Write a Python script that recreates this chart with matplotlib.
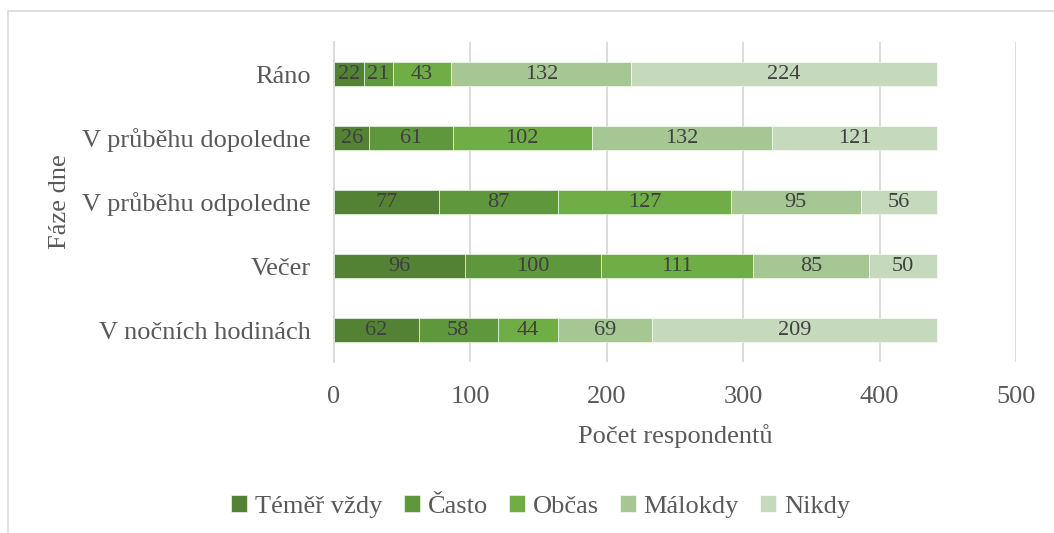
import matplotlib.pyplot as plt
from matplotlib.patches import Rectangle

plt.rcParams['font.family'] = ['Liberation Serif', 'DejaVu Serif']

phases = ["Ráno", "V průběhu dopoledne", "V průběhu odpoledne", "Večer", "V nočních hodinách"]
series = ["Téměř vždy", "Často", "Občas", "Málokdy", "Nikdy"]
temer_vzdy = [22, 26, 77, 96, 62]
casto = [21, 61, 87, 100, 58]
obcas = [43, 102, 127, 111, 44]
malokdy = [132, 132, 95, 85, 69]
nikdy = [224, 121, 56, 50, 209]
values = [temer_vzdy, casto, obcas, malokdy, nikdy]
colors = ["#548235", "#5f973c", "#70ad47", "#a6c693", "#c5d9bd"]

fig = plt.figure(figsize=(10.54, 5.33), dpi=100)
ax = fig.add_axes([0.3169, 0.3208, 0.6471, 0.6004])

ypos = list(range(len(phases)))
left = [0] * len(phases)
for name, vals, col in zip(series, values, colors):
    bars = ax.barh(ypos, vals, left=left, height=0.39, color=col, label=name,
                   edgecolor="white", linewidth=0.4)
    ax.bar_label(bars, labels=[str(v) for v in vals], label_type="center",
                 fontsize=16, color="#404040")
    left = [a + b for a, b in zip(left, vals)]

ax.set_xlim(0, 500)
ax.set_ylim(len(phases) - 0.5, -0.5)
ax.set_xticks([0, 100, 200, 300, 400, 500])
ax.set_yticks(ypos)
ax.set_yticklabels(phases)
ax.tick_params(axis="both", length=0, labelsize=19, colors="#595959")
ax.tick_params(axis="x", pad=17)
ax.tick_params(axis="y", pad=17)
ax.grid(axis="x", color="#d9d9d9", linewidth=1.3)
ax.set_axisbelow(True)
for s in ["top", "right", "bottom"]:
    ax.spines[s].set_visible(False)
ax.spines["left"].set_color("#d9d9d9")
ax.spines["left"].set_linewidth(1.3)

ax.set_xlabel("Počet respondentů", fontsize=19, color="#595959", labelpad=12)
ax.set_ylabel("Fáze dne", fontsize=19, color="#595959", labelpad=8)

fig.legend(loc="center", bbox_to_anchor=(0.513, 0.05), ncol=5, frameon=False,
           fontsize=19, labelcolor="#595959", handlelength=0.6, handleheight=0.6,
           handletextpad=0.3, columnspacing=0.8)

fig.patches.append(Rectangle((8 / 1054, -0.05), 1.1, 1 - 11 / 533 + 0.05,
                             transform=fig.transFigure, fill=False,
                             edgecolor="#d9d9d9", linewidth=1.2))

fig.savefig("out.png", dpi=100)
